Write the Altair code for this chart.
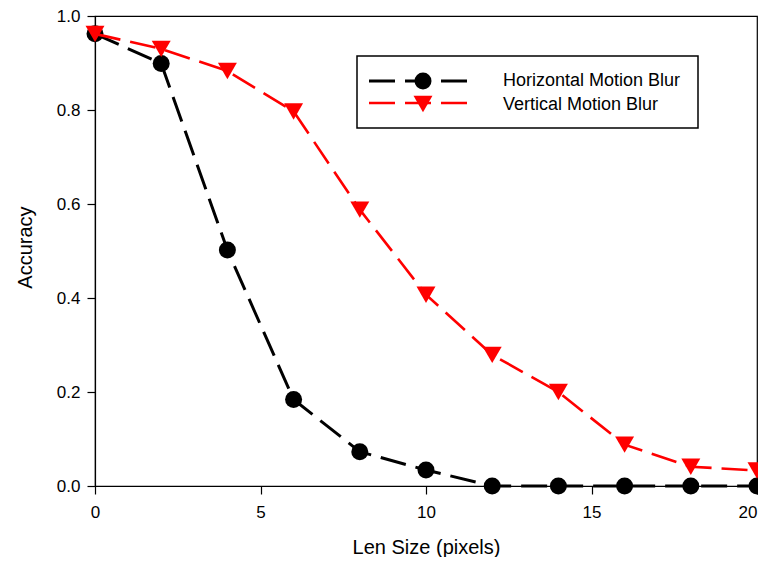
import altair as alt
import pandas as pd

# ---- data ----
len_size = [0, 2, 4, 6, 8, 10, 12, 14, 16, 18, 20]
horizontal = [0.962, 0.899, 0.502, 0.184, 0.073, 0.034, 0.0, 0.0, 0.0, 0.0, 0.0]
vertical = [0.962, 0.930, 0.883, 0.797, 0.588, 0.407, 0.279, 0.200, 0.088, 0.041, 0.033]
x_ticks = [0, 5, 10, 15, 20]
y_ticks = [0.0, 0.2, 0.4, 0.6, 0.8, 1.0]
series_names = ["Horizontal Motion Blur", "Vertical Motion Blur"]

FONT = "Liberation Sans"
PLOT_W = 662
PLOT_H = 470

df_h = pd.DataFrame({"x": len_size, "y": horizontal})
df_v = pd.DataFrame({"x": len_size, "y": vertical})

x_enc = alt.X(
    "x:Q",
    scale=alt.Scale(domain=[0, 20], nice=False),
    axis=alt.Axis(
        values=x_ticks, format="d", title="Len Size (pixels)",
        titleX=331, titleY=67, titleBaseline="alphabetic", titleAlign="center",
        labelPadding=10,
        labelAlign={"condition": {"test": "datum.value >= 20", "value": "right"}, "value": "center"},
    ),
)
y_enc = alt.Y(
    "y:Q",
    scale=alt.Scale(domain=[0, 1], nice=False),
    axis=alt.Axis(
        values=y_ticks, format=".1f", title="Accuracy",
        titleX=-70, titleY=231, titleAngle=-90, titleBaseline="middle", titleAlign="center",
        labelPadding=7,
    ),
)

dash = [26, 10]

h_line = alt.Chart(df_h).mark_line(color="black", strokeWidth=3, strokeDash=dash).encode(x=x_enc, y=y_enc)
h_pts = alt.Chart(df_h).mark_point(shape="circle", filled=True, color="black", size=289, opacity=1).encode(x="x:Q", y="y:Q")
v_line = alt.Chart(df_v).mark_line(color="#ff0000", strokeWidth=2.6, strokeDash=dash).encode(x="x:Q", y="y:Q")
v_pts = alt.Chart(df_v).mark_point(shape="triangle-down", filled=True, color="#ff0000", size=360, opacity=1).encode(x="x:Q", y="y:Q")

# ---- custom legend box ----
one = pd.DataFrame({"a": [0]})
box = alt.Chart(one).mark_rect(fill="white", stroke="black", strokeWidth=1.5).encode(
    x=alt.value(262), x2=alt.value(603), y=alt.value(40), y2=alt.value(112)
)
leg_h_line = alt.Chart(one).mark_rule(color="black", strokeWidth=3, strokeDash=dash).encode(
    x=alt.value(274), x2=alt.value(372), y=alt.value(65)
)
leg_h_pt = alt.Chart(one).mark_point(shape="circle", filled=True, color="black", size=289, opacity=1).encode(
    x=alt.value(328), y=alt.value(65)
)
leg_h_txt = alt.Chart(one).mark_text(align="left", baseline="middle", fontSize=18, font=FONT, color="black").encode(
    x=alt.value(408), y=alt.value(65), text=alt.value(series_names[0])
)
leg_v_line = alt.Chart(one).mark_rule(color="#ff0000", strokeWidth=2.6, strokeDash=dash).encode(
    x=alt.value(274), x2=alt.value(372), y=alt.value(87)
)
leg_v_pt = alt.Chart(one).mark_point(shape="triangle-down", filled=True, color="#ff0000", size=360, opacity=1).encode(
    x=alt.value(328), y=alt.value(88)
)
leg_v_txt = alt.Chart(one).mark_text(align="left", baseline="middle", fontSize=18, font=FONT, color="black").encode(
    x=alt.value(408), y=alt.value(88.5), text=alt.value(series_names[1])
)

chart = alt.layer(
    h_line, h_pts, v_line, v_pts,
    box, leg_h_line, leg_h_pt, leg_h_txt, leg_v_line, leg_v_pt, leg_v_txt,
).properties(
    width=PLOT_W, height=PLOT_H,
    background="white",
    autosize=alt.AutoSizeParams(type="none"),
    padding={"left": 87, "top": 8, "right": 1, "bottom": 71},
).configure_view(
    stroke="black", strokeWidth=1.2
).configure_axis(
    grid=False,
    domainColor="black", domainWidth=1.2,
    tickColor="black", tickWidth=1.2, tickSize=8,
    labelColor="black", labelFont=FONT, labelFontSize=17,
    titleColor="black", titleFont=FONT, titleFontSize=20, titleFontWeight="normal",
)

chart.save("out.html", embed_options={"renderer": "svg", "actions": False})
